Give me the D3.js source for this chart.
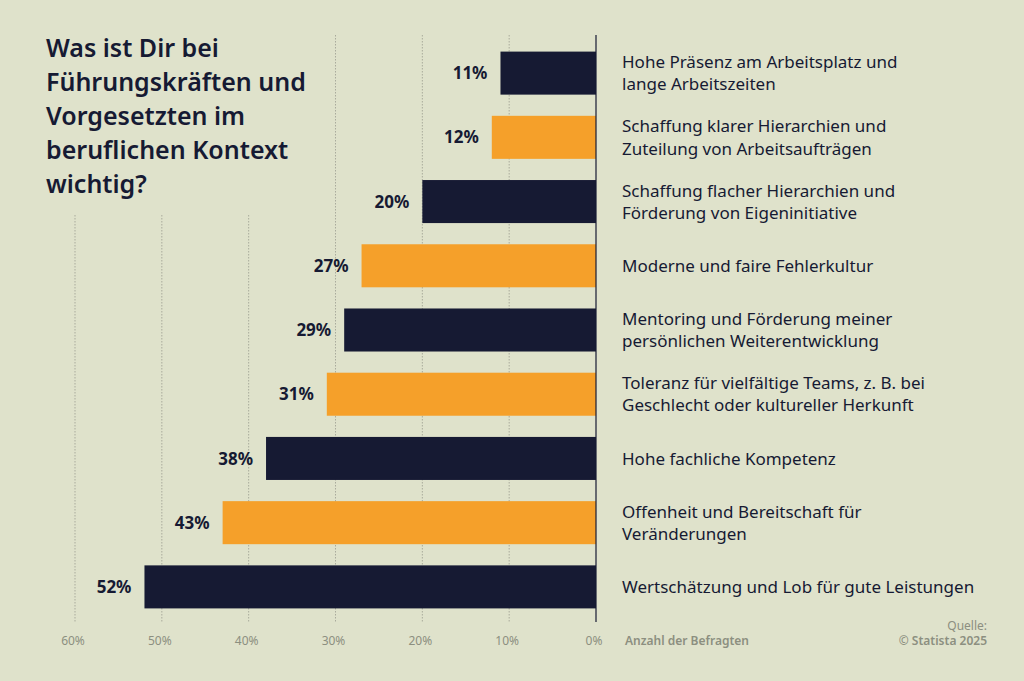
<!DOCTYPE html>
<html>
<head>
<meta charset="utf-8">
<script src="https://cdn.jsdelivr.net/npm/d3@7"></script>
<style>
  html, body { margin: 0; padding: 0; background: #dfe2cb; }
  svg { display: block; font-family: "Noto Sans", sans-serif; }
</style>
</head>
<body>
<div id="chart"></div>
<script>
// data, top to bottom
const categories = [
  "Hohe Präsenz am Arbeitsplatz und|lange Arbeitszeiten",
  "Schaffung klarer Hierarchien und|Zuteilung von Arbeitsaufträgen",
  "Schaffung flacher Hierarchien und|Förderung von Eigeninitiative",
  "Moderne und faire Fehlerkultur",
  "Mentoring und Förderung meiner|persönlichen Weiterentwicklung",
  "Toleranz für vielfältige Teams, z. B. bei|Geschlecht oder kultureller Herkunft",
  "Hohe fachliche Kompetenz",
  "Offenheit und Bereitschaft für|Veränderungen",
  "Wertschätzung und Lob für gute Leistungen"
];
const values = [11, 12, 20, 27, 29, 31, 38, 43, 52];
const ticks = [0, 10, 20, 30, 40, 50, 60];
const titleLines = ["Was ist Dir bei", "Führungskräften und", "Vorgesetzten im", "beruflichen Kontext", "wichtig?"];

const width = 1024, height = 681;
const navy = "#161a33", orange = "#f5a02a", grey = "#8c8f80";

const svg = d3.select("#chart").append("svg")
  .attr("width", width)
  .attr("height", height);

svg.append("rect").attr("width", width).attr("height", height).attr("fill", "#dfe2cb");

// x runs right to left: 0% at the axis, 60% on the far left
const x = d3.scaleLinear().domain([0, 60]).range([596, 75]);
const y = d3.scaleBand()
  .domain(categories)
  .range([41, 619])
  .paddingInner(0.33)
  .paddingOuter(0.165);

// gridlines (the left ones stop under the title)
svg.append("g").selectAll("line")
  .data(ticks.filter(t => t > 0))
  .join("line")
  .attr("x1", d => x(d)).attr("x2", d => x(d))
  .attr("y1", d => d >= 40 ? 215 : 35)
  .attr("y2", 622)
  .attr("stroke", "#a9ab9c")
  .attr("stroke-width", 1)
  .attr("stroke-dasharray", "1.5,1.5");

// bars
svg.append("g").selectAll("rect")
  .data(values)
  .join("rect")
  .attr("x", d => x(d))
  .attr("y", (d, i) => y(categories[i]))
  .attr("width", d => x(0) - x(d))
  .attr("height", y.bandwidth())
  .attr("fill", (d, i) => i % 2 ? orange : navy);

// zero line
svg.append("line")
  .attr("x1", x(0)).attr("x2", x(0))
  .attr("y1", 35).attr("y2", 622)
  .attr("stroke", navy).attr("stroke-width", 1.2);

// value labels
svg.append("g").selectAll("text")
  .data(values)
  .join("text")
  .attr("x", d => x(d) - 13)
  .attr("y", (d, i) => y(categories[i]) + y.bandwidth() / 2)
  .attr("dy", "0.36em")
  .attr("text-anchor", "end")
  .attr("fill", navy)
  .attr("font-size", 17)
  .attr("font-weight", 700)
  .text(d => d + "%");

// category labels, one or two lines
const lab = svg.append("g").selectAll("text")
  .data(categories)
  .join("text")
  .attr("x", 622)
  .attr("y", d => y(d) + y.bandwidth() / 2)
  .attr("fill", navy)
  .attr("font-size", 17);
lab.each(function(d) {
  const lines = d.split("|");
  const t = d3.select(this);
  lines.forEach((l, j) => {
    t.append("tspan")
      .attr("x", 622)
      .attr("dy", j === 0 ? (0.36 - (lines.length - 1) * 0.65) + "em" : "1.3em")
      .text(l);
  });
});

// x axis tick labels
svg.append("g").selectAll("text")
  .data(ticks)
  .join("text")
  .attr("x", d => x(d) - 2)
  .attr("y", 645)
  .attr("text-anchor", "middle")
  .attr("fill", grey)
  .attr("font-size", 12)
  .text(d => d + "%");

svg.append("text")
  .attr("x", 625).attr("y", 645)
  .attr("fill", grey).attr("font-size", 12).attr("font-weight", 600)
  .text("Anzahl der Befragten");

// title
svg.append("g").selectAll("text")
  .data(titleLines)
  .join("text")
  .attr("x", 46)
  .attr("y", (d, i) => 57 + i * 34)
  .attr("fill", navy)
  .attr("font-size", 25)
  .attr("font-weight", 600)
  .text(d => d);

// source
svg.append("text")
  .attr("x", 987).attr("y", 630)
  .attr("text-anchor", "end")
  .attr("fill", grey).attr("font-size", 12)
  .text("Quelle:");
svg.append("text")
  .attr("x", 987).attr("y", 645)
  .attr("text-anchor", "end")
  .attr("fill", grey).attr("font-size", 12).attr("font-weight", 600)
  .text("© Statista 2025");
</script>
</body>
</html>
